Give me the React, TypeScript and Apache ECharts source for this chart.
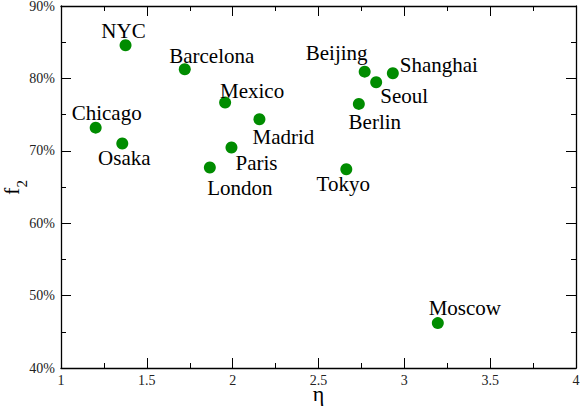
import React, { useEffect, useRef } from "react";
import * as echarts from "echarts";

const cities = ["NYC", "Barcelona", "Chicago", "Osaka", "Mexico", "Madrid", "Paris", "London", "Beijing", "Shanghai", "Seoul", "Berlin", "Tokyo", "Moscow"];
const etaValues = [1.376, 1.721, 1.202, 1.357, 1.956, 2.156, 1.993, 1.867, 2.769, 2.933, 2.836, 2.735, 2.662, 3.195];
const f2Values = [84.57, 81.27, 73.2, 71.0, 76.66, 74.36, 70.45, 67.7, 80.93, 80.71, 79.47, 76.48, 67.46, 46.2];
const xTicks = { min: 1, max: 4, interval: 0.5 };
const yTicks = { min: 40, max: 90, interval: 10 };
const xName = "η";
const yNameMain = "f";
const yNameSub = "2";

// label offsets (styling, px from marker centre)
const labelOffsets: [number, number][] = [
  [-2, -14], [27, -13], [11, -15], [2, 14], [27, -12], [24, 18], [25, 15],
  [30, 21], [-28, -19], [46, -8], [28, 14], [16, 18], [-3, 15], [27, -15],
];

const FONT = "Liberation Serif";

export default function App() {
  const ref = useRef<HTMLDivElement>(null);
  useEffect(() => {
    if (!ref.current) return;
    const chart = echarts.init(ref.current, undefined, { renderer: "svg" });
    const axisLine = { show: true, lineStyle: { color: "#000", width: 1.3 } };
    const tick = { show: true, inside: true, length: 10, lineStyle: { color: "#000", width: 1 } };
    const minor = { show: true, splitNumber: 2, length: 5, lineStyle: { color: "#000", width: 1 } };
    const tickLabel = { fontFamily: FONT, fontSize: 14, lineHeight: 12, color: "#222" };
    const data = cities.map((c, i) => ({
      name: c,
      value: [etaValues[i], f2Values[i]],
      label: {
        show: true,
        position: "inside",
        offset: labelOffsets[i],
        formatter: c,
        fontFamily: FONT,
        fontSize: 21,
        color: "#000",
      },
    }));
    chart.setOption({
      animation: false,
      backgroundColor: "#fff",
      textStyle: { fontFamily: FONT },
      grid: { left: 61, right: 5, top: 6, bottom: 38, containLabel: false, outerBoundsMode: "none" },
      graphic: [
        {
          type: "text", x: 11, y: 195, rotation: Math.PI / 2, silent: true,
          style: { text: yNameMain, font: `22px ${FONT}`, fill: "#000", textAlign: "left", textVerticalAlign: "middle" },
        },
        {
          type: "text", x: 21.5, y: 187.5, rotation: Math.PI / 2, silent: true,
          style: { text: yNameSub, font: `15px ${FONT}`, fill: "#000", textAlign: "left", textVerticalAlign: "middle" },
        },
      ],
      xAxis: [
        {
          type: "value", position: "bottom", ...xTicks,
          axisLine, axisTick: tick, minorTick: minor,
          splitLine: { show: false },
          axisLabel: { ...tickLabel, margin: 6 },
          name: xName, nameLocation: "middle", nameGap: 21, nameMoveOverlap: false,
          nameTextStyle: { fontFamily: FONT, fontSize: 22, lineHeight: 8, color: "#000" },
        },
        {
          type: "value", position: "top", ...xTicks,
          axisLine, axisTick: tick, minorTick: minor,
          splitLine: { show: false }, axisLabel: { show: false },
        },
      ],
      yAxis: [
        {
          type: "value", position: "left", ...yTicks,
          axisLine, axisTick: tick, minorTick: minor,
          splitLine: { show: false },
          axisLabel: { ...tickLabel, margin: 6, formatter: "{value}%" },
        },
        {
          type: "value", position: "right", ...yTicks,
          axisLine, axisTick: tick, minorTick: minor,
          splitLine: { show: false }, axisLabel: { show: false },
        },
      ],
      series: [
        {
          type: "scatter",
          symbol: "circle",
          symbolSize: 12,
          itemStyle: { color: "#008c00", opacity: 1 },
          data,
        },
      ],
    });
    return () => chart.dispose();
  }, []);
  return <div ref={ref} style={{ width: 581, height: 406, position: "absolute", left: 0, top: 0 }} />;
}
